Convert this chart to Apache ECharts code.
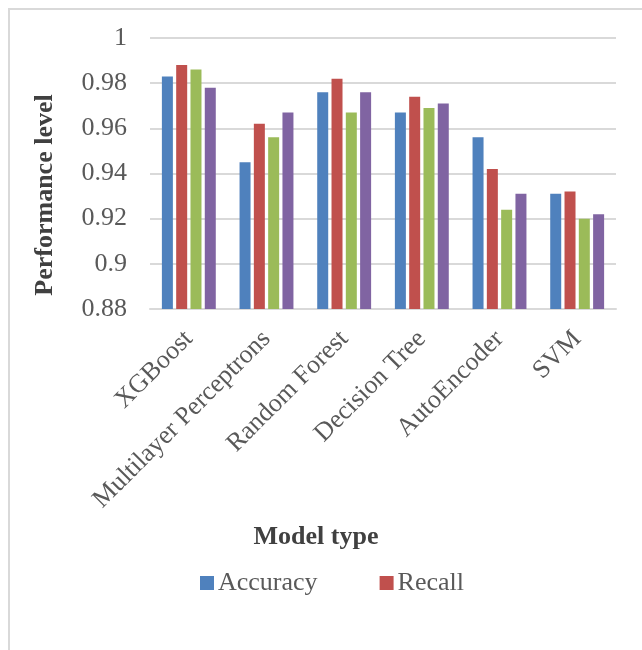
<!DOCTYPE html>
<html>
<head>
<meta charset="utf-8">
<script src="https://cdn.jsdelivr.net/npm/echarts@6/dist/echarts.min.js"></script>
<style>
  html, body { margin: 0; padding: 0; background: #fff; }
  #chart { width: 642px; height: 650px; }
</style>
</head>
<body>
<div id="chart"></div>
<script>
// Model comparison: four metrics per model type
const models = ['XGBoost', 'Multilayer Perceptrons', 'Random Forest', 'Decision Tree', 'AutoEncoder', 'SVM'];
const accuracy  = [0.983, 0.945, 0.976, 0.967, 0.956, 0.931];
const recall    = [0.988, 0.962, 0.982, 0.974, 0.942, 0.932];
const precision = [0.986, 0.956, 0.967, 0.969, 0.924, 0.920];
const f1Score   = [0.978, 0.967, 0.976, 0.971, 0.931, 0.922];

const yMin = 0.88, yMax = 1, yStep = 0.02;

const serif = '"Liberation Serif", "DejaVu Serif", serif';
const textGray = '#595959';
const gridGray = '#d9d9d9';

function barSeries(name, data, color) {
  return {
    name: name,
    type: 'bar',
    data: data,
    barWidth: 11,
    barGap: '30%',
    itemStyle: { color: color },
    emphasis: { disabled: true }
  };
}

const chart = echarts.init(document.getElementById('chart'), null, { renderer: 'canvas' });
chart.setOption({
  animation: false,
  backgroundColor: '#fff',
  textStyle: { fontFamily: serif },
  grid: { left: 150, right: 26, top: 38, bottom: 341, containLabel: false },
  legend: {
    data: ['Accuracy', 'Recall'],
    left: 200,
    top: 570,
    padding: 0,
    itemWidth: 14,
    itemHeight: 14,
    itemGap: 62,
    icon: 'rect',
    textStyle: { fontFamily: serif, fontSize: 26, color: textGray, padding: [0, 0, 0, -1] }
  },
  xAxis: {
    type: 'category',
    data: models,
    axisLine: { show: true, lineStyle: { color: gridGray, width: 2 } },
    axisTick: { show: false },
    axisLabel: {
      rotate: 45,
      interval: 0,
      margin: 26,
      fontFamily: serif,
      fontSize: 26,
      color: textGray
    }
  },
  yAxis: {
    type: 'value',
    min: yMin,
    max: yMax,
    interval: yStep,
    axisLine: { show: false },
    axisTick: { show: false },
    splitLine: { lineStyle: { color: gridGray, width: 2 } },
    axisLabel: {
      margin: 23,
      fontFamily: serif,
      fontSize: 26,
      color: textGray
    }
  },
  graphic: [
    {
      type: 'rect',
      silent: true,
      shape: { x: 9, y: 9, width: 1000, height: 1000 },
      style: { fill: 'none', stroke: gridGray, lineWidth: 2 }
    },
    {
      type: 'text',
      silent: true,
      x: 45,
      y: 195,
      rotation: Math.PI / 2,
      style: {
        text: 'Performance level',
        font: 'bold 26px ' + serif,
        fill: '#404040',
        align: 'center',
        verticalAlign: 'middle'
      }
    },
    {
      type: 'text',
      silent: true,
      x: 316,
      y: 537,
      style: {
        text: 'Model type',
        font: 'bold 26px ' + serif,
        fill: '#404040',
        align: 'center',
        verticalAlign: 'middle'
      }
    }
  ],
  series: [
    barSeries('Accuracy', accuracy, '#4f81bd'),
    barSeries('Recall', recall, '#c0504d'),
    barSeries('Precision', precision, '#9bbb59'),
    barSeries('F1 score', f1Score, '#8064a2')
  ]
});
</script>
</body>
</html>
